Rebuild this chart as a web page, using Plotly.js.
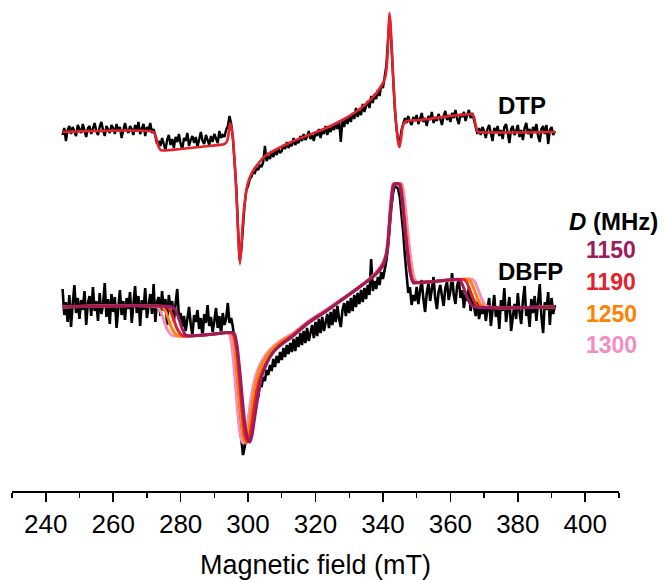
<!DOCTYPE html>
<html>
<head>
<meta charset="utf-8">
<script src="https://cdn.plot.ly/plotly-3.0.1.min.js"></script>
<style>html,body{margin:0;padding:0;background:#fff;}#chart{width:664px;height:580px;}</style>
</head>
<body>
<div id="chart"></div>
<script>
// ---- Data (signal intensity in arbitrary units, baseline = 0) ----
const fieldStart = 245;   // mT, first experimental point
const fieldStep = 0.5;    // mT, experimental point spacing

// DTP experimental spectrum (245 - 391 mT)
const dtpData = [
-3,4,-9,2,6,-2,5,1,-4,7,
3,-1,8,2,-5,4,6,-2,3,9,
1,-3,5,10,2,-4,6,3,-1,7,
4,-2,8,1,5,-6,3,9,2,-1,
6,3,-3,7,1,10,-2,4,8,-4,
5,2,9,-1,
3,-4,-12,-9,
-14,-6,-11,-18,-8,-3,-13,-7,-16,-5,
-10,-2,-12,-17,-6,-9,-1,-14,-8,-4,
-11,-5,-15,-7,0,-9,-12,-3,-8,-13,
-4,-10,-2,-7,-11,1,-6,-3,
-5,2,6,16,8,-6,
-28,-55,-95,-128,-118,-90,-72,-58,
-54,-47,-45,-40,-41,-36,-38,-33,-35,-30,
-14,-29,-24,-27,-20,-25,-18,-23,-16,-21,
-19,-13,-17,-10,-16,-12,-14,-6,-13,-9,
-11,-4,-9,-2,-8,-5,1,-7,-3,-9,
0,-4,3,-6,2,-2,6,-3,4,0,
7,2,9,3,11,-10,12,5,14,8,
16,10,19,13,24,15,21,17,28,20,
26,31,24,36,29,38,33,42,36,47,
44,56,66,92,116,88,52,24,4,-8,
-10,2,8,14,9,16,10,7,15,11,
17,8,13,19,10,14,6,16,12,20,
9,15,11,18,13,7,16,21,12,17,
10,19,14,22,13,8,18,15,20,11,
17,22,14,19,12,6,-2,4,-3,5,
1,-6,3,7,-2,-9,4,0,6,-4,
2,-7,5,8,-1,-11,3,6,-3,1,
7,-5,2,-8,4,9,-2,3,-6,5,
1,8,-4,-10,3,6,-2,7,-12,2,
5,-3,1
];

// DBFP experimental spectrum (245 - 391 mT)
const dbfpData = [
18,-8,5,-15,12,-20,3,22,-6,9,
-12,7,-3,16,-18,4,11,-9,20,-4,
6,-14,14,-7,2,24,-10,8,-17,13,
-5,10,-21,3,17,-8,6,-13,9,-2,
15,-16,4,21,-6,11,-19,7,-3,19,
-11,2,13,-7,23,-15,5,10,-9,16,
-4,8,-18,12,-1,6,-14,3,18,-10,
-6,-20,-9,-24,-12,0,-17,-28,-8,-15,
-3,-22,-11,-30,-7,-16,2,-19,-10,-25,
-14,-1,-21,-9,-27,-6,-18,-12,4,-16,
-11,-20,
-35,-62,-95,-118,-132,-148,-140,-128,
-131,-118,-112,-100,-96,-84,-90,-77,-80,-70,
-74,-63,-68,-58,-64,-52,-60,-49,-56,-45,
-53,-41,-50,-38,-47,-36,-45,-32,-44,-30,
-40,-26,-38,-24,-36,-21,-34,-27,-18,-31,
-15,-29,-12,-26,-10,-24,-14,-7,-21,-5,
-18,-2,-15,1,-12,-20,-3,4,-9,6,
-6,9,-4,12,0,14,3,17,5,19,
8,22,12,48,16,26,18,30,22,35,
28,36,46,60,82,100,114,121,120,118,
110,95,75,52,30,14,20,2,12,6,
20,3,16,27,8,-5,14,24,6,18,
30,9,-2,15,22,11,1,19,25,7,
16,34,12,3,21,28,9,17,-1,13,
6,20,-4,10,2,-9,5,-12,0,-7,
4,-14,-2,9,-19,-6,12,-10,1,-22,
7,-4,19,-15,-1,10,-24,-8,3,-12,
14,-5,-17,6,21,-9,-2,-20,8,-6,
11,-14,2,23,-10,-26,5,-3,15,-18,
9,-7,2
];

// DTP simulation
const dtpFitField = [245,272.0,272.6,273.2,273.8,274.5,280,287,293.0,293.8,294.3,294.7,295.3,295.8,296.3,296.8,297.2,297.6,298.0,298.5,299.1,299.8,300.6,301.8,303.1,305,308,313,318,323,328,332.7,336.7,339.7,340.7,341.2,341.6,341.9,342.2,342.6,343.1,343.6,344.2,344.6,344.9,345.3,345.8,346.3,347.1,351,366.5,367.0,367.5,368.0,368.5,391];
const dtpFitSignal = [0,0,-4,-12,-17,-18.5,-17,-14.5,-12,-9,0,9,0,-18,-45,-80,-112,-132,-115,-88,-68,-53,-44.7,-37,-31.3,-24,-18,-9.7,-3,3.7,12,22,33.7,47,55,68,95,119,110,85,50,22,-2,-12,-15,-8,4,9,11,12,17.5,15,7,1,0,0];

// DBFP simulations for D values (MHz)
const dValues = ["1150","1190","1250","1300"];
const fit1150Field = [245,277.5,278.5,279.5,280.5,281.5,282.5,285,290,295.2,296.0,296.8,297.6,298.4,299.2,300.0,300.6,301.2,302.0,303.1,304.0,305.1,306.5,308,310.5,313,317.9,322.9,327.8,332.7,337.7,340.1,341.0,341.6,342.1,342.6,343.1,343.6,344.6,345.1,345.8,346.6,347.3,348.1,349.0,350,355,362.4,363.2,364.2,365.2,366.2,367.3,391];
const fit1150Signal = [0,0,-3,-12,-22,-28,-29,-28.5,-27,-25.5,-27,-40,-65,-95,-120,-133,-135,-128,-110,-86,-70,-60,-50,-43,-36,-30,-16,-5,7,19,32,42,52,67,90,107,121,123,123,121,105,77,55,34,24,24.5,25.5,27.7,25,17,8,2,0,0];
const fit1190Field = [245,276.0,277.0,278.0,279.0,280.0,281.0,285,290,295.0,295.8,296.6,297.4,298.2,299.0,299.8,300.5,301.3,302.3,303.3,304.5,306,308,310.5,313,318,323,328,333,337.5,340,341.1,341.7,342.2,342.7,343.2,344.9,345.5,346.2,347.0,347.8,348.7,349.5,355,364.0,364.8,365.8,366.8,367.8,368.8,391];
const fit1190Signal = [0,0,-4,-13,-22,-27,-29,-28.5,-27,-25.5,-28,-42,-70,-102,-127,-135,-130,-112,-90,-74,-62,-52,-43,-35,-29,-15,-4,8,20,32,43,54,72,96,113,123,123,112,88,62,40,27,24.5,25.5,27.7,25,17,8,2,0,0];
const fit1250Field = [245,274.5,275.5,276.5,277.5,278.5,279.5,285,290,294.6,295.4,296.2,297.0,297.8,298.6,299.3,300.0,300.8,301.8,302.8,304,305.5,307.5,310.5,313,318,323,328,333,337.5,340,341.2,341.8,342.3,342.8,343.3,345.2,345.7,346.4,347.2,348.0,348.8,349.6,355,365.3,366.1,367.1,368.1,369.1,370.1,391];
const fit1250Signal = [0,0,-4,-13,-22,-27,-29,-28.5,-27,-25.5,-28,-45,-75,-108,-130,-136,-128,-108,-85,-70,-58,-49,-41,-33,-28,-15,-4,8,20,32,43,56,78,100,117,123,123,114,92,64,42,28,24.5,25.5,27.7,25,17,8,2,0,0];
const fit1300Field = [245,273.0,274.0,275.0,276.0,277.0,278.0,280,285,290,293.8,294.6,295.4,296.2,297.0,297.8,298.6,299.4,300.2,301.2,302.2,303.5,305,307,310,313,318,323,328,333,337.5,340,341.0,341.6,342.1,342.6,343.0,345.6,346.1,346.8,347.6,348.4,349.2,350,355,366.5,367.3,368.3,369.3,370.3,371.3,391];
const fit1300Signal = [0,0,-4,-13,-22,-27,-29,-29,-28.5,-27,-25.5,-28,-45,-75,-108,-130,-136,-128,-108,-85,-70,-58,-49,-41,-33,-27,-14,-3,8,20,33,44,55,75,98,116,123,123,115,95,68,45,30,25,25.5,27.7,25,17,8,2,0,0];

const xTickVals = [240,260,280,300,320,340,360,380,400];

// ---- Presentation ----
const DTP_OFFSET = 359, DBFP_OFFSET = 184;
const shift = (arr, off) => arr.map(v => v + off);
const fitColors = {"1150":"#9C1C5E","1190":"#E5222B","1250":"#FF8200","1300":"#F48CC4"};
const labelFont = "Liberation Sans, Arial, sans-serif";

const traces = [];
traces.push({type:'scatter', mode:'lines', x0:fieldStart, dx:fieldStep, y:shift(dtpData, DTP_OFFSET),
  line:{color:'#000', width:2.4}, hoverinfo:'skip', showlegend:false});
traces.push({type:'scatter', mode:'lines', x:dtpFitField, y:shift(dtpFitSignal, DTP_OFFSET),
  line:{color:'#E5222B', width:2.6, shape:'spline', smoothing:0.6}, showlegend:false});
traces.push({type:'scatter', mode:'lines', x0:fieldStart, dx:fieldStep, y:shift(dbfpData, DBFP_OFFSET),
  line:{color:'#000', width:2.6}, hoverinfo:'skip', showlegend:false});
const fits = {"1300":[fit1300Field,fit1300Signal],"1250":[fit1250Field,fit1250Signal],"1190":[fit1190Field,fit1190Signal],"1150":[fit1150Field,fit1150Signal]};
["1300","1250","1190","1150"].forEach(d => {
  traces.push({type:'scatter', mode:'lines', x:fits[d][0], y:shift(fits[d][1], DBFP_OFFSET),
    line:{color:fitColors[d], width:3, shape:'spline', smoothing:0.6}, showlegend:false, name:d});
});

const annotations = [
  {x:381.3, y:386, xref:'x', yref:'y', text:'<b>DTP</b>', showarrow:false, font:{family:labelFont, size:24, color:'#000'}},
  {x:383.7, y:220, xref:'x', yref:'y', text:'<b>DBFP</b>', showarrow:false, font:{family:labelFont, size:24, color:'#000'}},
  {x:408.3, y:270, xref:'x', yref:'y', text:'<b><i>D</i> (MHz)</b>', showarrow:false, font:{family:labelFont, size:24, color:'#000'}}
];
const legendY = [241, 209.5, 177.5, 146];
dValues.forEach((d,i) => annotations.push({x:407.7, y:legendY[i], xref:'x', yref:'y', text:'<b>'+d+'</b>', showarrow:false,
  font:{family:labelFont, size:23, color:fitColors[d]}}));

const layout = {
  width:664, height:580,
  margin:{l:12, r:45, t:0, b:89},
  paper_bgcolor:'#fff', plot_bgcolor:'#fff',
  showlegend:false,
  xaxis:{range:[230,410], tickvals:xTickVals, ticks:'outside', ticklen:9, tickwidth:1.6, tickcolor:'#000',
    showline:true, linecolor:'#000', linewidth:1.8, showgrid:false, zeroline:false,
    minor:{dtick:10, tick0:230, ticks:'outside', ticklen:5, tickwidth:1.4, tickcolor:'#000', showgrid:false},
    tickfont:{family:'Liberation Sans, Arial, sans-serif', size:26, color:'#000'},
    title:{text:'Magnetic field (mT)', font:{family:'Liberation Sans, Arial, sans-serif', size:27, color:'#000'}, standoff:18}},
  yaxis:{range:[0,491], visible:false, showgrid:false, zeroline:false},
  annotations: annotations
};
Plotly.newPlot('chart', traces, layout, {staticPlot:true, displayModeBar:false});
</script>
</body>
</html>
